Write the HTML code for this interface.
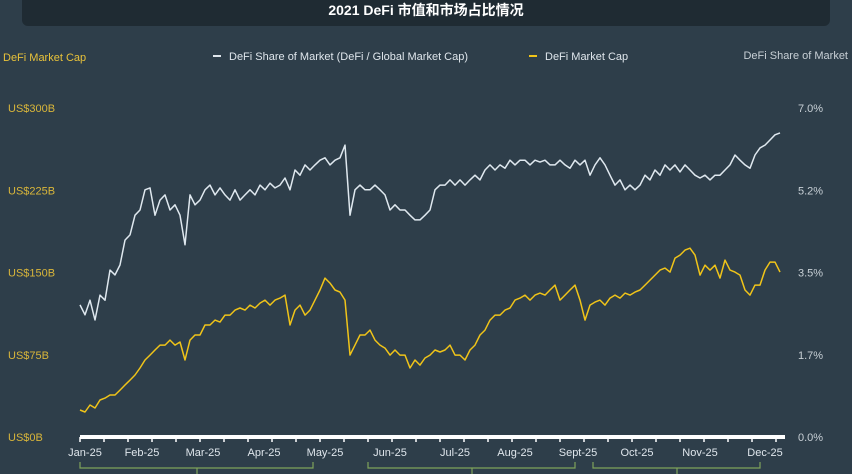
<!DOCTYPE html>
<html><head><meta charset="utf-8">
<style>
html,body{margin:0;padding:0;background:#2e3e4a;}
svg{display:block;font-family:"Liberation Sans","Noto Sans CJK SC",sans-serif;}
</style></head>
<body>
<svg id="chart" width="852" height="474" viewBox="0 0 852 474">
  <rect x="0" y="0" width="852" height="474" fill="#2e3e4a"/>
  <rect x="22" y="-10" width="808" height="36" rx="6" fill="#1f2b33"/>
  <text x="426" y="15" text-anchor="middle" fill="#ffffff" font-size="14" font-weight="bold">2021 DeFi 市值和市场占比情况</text>
  <text x="3" y="61" fill="#e8c23a" font-size="11">DeFi Market Cap</text>
  <text x="848" y="59" text-anchor="end" fill="#c8d0d6" font-size="11">DeFi Share of Market</text>
  <g>
    <g>
      <line x1="213" y1="56" x2="221" y2="56" stroke="#dfe6ec" stroke-width="2"/>
      <text x="229" y="60" fill="#dfe6ec" font-size="11">DeFi Share of Market (DeFi / Global Market Cap)</text>
    </g>
    <g>
      <line x1="529" y1="56" x2="537" y2="56" stroke="#f0c419" stroke-width="2"/>
      <text x="545" y="60" fill="#dfe6ec" font-size="11">DeFi Market Cap</text>
    </g>
  </g>
  <g id="leftTicks"></g>
  <g id="rightTicks"></g>
  <g id="xAxis"></g>
  <g id="series"></g>
  <g stroke="#7fa35a" stroke-width="1.2" fill="none">
    <path d="M80,462 V468 H313 V462 M197,468 V474"/>
    <path d="M368,462 V468 H575 V462 M472,468 V474"/>
    <path d="M593,462 V468 H760 V462 M677,468 V474"/>
  </g>
</svg>
<script>
const leftTickValues=[0,75,150,225,300];
const leftTickLabels=["US$0B","US$75B","US$150B","US$225B","US$300B"];
const rightTickValues=[0,1.75,3.5,5.25,7.0];
const rightTickLabels=["0.0%","1.7%","3.5%","5.2%","7.0%"];
const monthLabels=["Jan-25","Feb-25","Mar-25","Apr-25","May-25","Jun-25","Jul-25","Aug-25","Sept-25","Oct-25","Nov-25","Dec-25"];
const monthPos=[1,12.4,24.6,36.8,49,62,75,87,99.6,111.4,124,137];
const shareValues=[2.81,2.60,2.91,2.49,3.02,2.91,3.55,3.45,3.66,4.19,4.30,4.72,4.83,5.26,5.30,4.72,5.04,5.15,4.83,4.94,4.72,4.09,5.15,4.94,5.04,5.26,5.36,5.15,5.30,5.15,5.04,5.26,5.04,5.15,5.26,5.15,5.36,5.26,5.40,5.30,5.36,5.51,5.26,5.68,5.57,5.79,5.68,5.79,5.89,5.94,5.79,5.89,5.94,6.21,4.72,5.26,5.36,5.26,5.26,5.36,5.26,5.15,4.83,4.94,4.83,4.83,4.72,4.62,4.62,4.72,4.83,5.26,5.36,5.36,5.47,5.36,5.47,5.36,5.47,5.57,5.47,5.68,5.79,5.68,5.79,5.72,5.89,5.79,5.89,5.89,5.79,5.89,5.85,5.89,5.79,5.79,5.89,5.79,5.72,5.89,5.79,5.89,5.57,5.79,5.94,5.79,5.57,5.36,5.47,5.26,5.36,5.26,5.36,5.57,5.47,5.68,5.57,5.79,5.68,5.79,5.64,5.79,5.68,5.57,5.51,5.57,5.47,5.57,5.57,5.68,5.79,6.00,5.89,5.79,5.72,6.00,6.15,6.21,6.32,6.43,6.47];
const capValues=[24.6,22.8,29.2,26.4,33.7,35.5,38.3,38.3,42.8,47.4,51.9,56.5,62.9,70.2,74.7,79.3,83.8,83.8,88.4,83.8,86.6,70.2,88.4,93.0,93.0,102.1,102.1,106.6,104.8,111.2,111.2,115.7,117.6,115.7,120.3,117.6,122.1,124.8,120.3,124.8,126.7,129.4,102.1,115.7,120.3,111.2,115.7,124.8,134.0,144.9,140.3,134.0,132.1,124.8,74.7,83.8,93.0,93.0,97.5,88.4,83.8,81.1,74.7,79.3,74.7,74.7,62.9,70.2,65.6,72.0,74.7,79.3,77.5,79.3,83.8,74.7,74.7,70.2,79.3,83.8,93.0,97.5,106.6,111.2,111.2,115.7,117.6,124.8,126.7,129.4,124.8,129.4,131.2,129.4,134.0,138.5,124.8,129.4,134.0,138.5,124.8,106.6,120.3,123.0,124.8,120.3,126.7,129.4,126.7,131.2,129.4,132.1,134.0,138.5,143.1,147.6,152.2,154.0,150.4,163.1,165.9,170.4,172.2,165.9,147.6,156.7,152.2,156.7,144.9,161.3,152.2,150.4,147.6,134.0,129.4,138.5,138.5,152.2,159.5,159.5,150.4];

const NS="http://www.w3.org/2000/svg";
const X0=80,X1=780,Y0=437,Y1=108;
const n=capValues.length;
function xIdx(i){return X0+i*(X1-X0)/(n-1);}
function yLeft(v){return Y0-(v/300)*(Y0-Y1);}
function yRight(v){return Y0-(v/7)*(Y0-Y1);}
function mk(tag,attrs,parent){const e=document.createElementNS(NS,tag);for(const k in attrs)e.setAttribute(k,attrs[k]);parent.appendChild(e);return e;}

const lt=document.getElementById('leftTicks');
leftTickValues.forEach((v,i)=>{
  const t=mk('text',{x:8,y:yLeft(v)+4,fill:'#d9b63a','font-size':11},lt);
  
  
  t.textContent=leftTickLabels[i];
});
const rt=document.getElementById('rightTicks');
rightTickValues.forEach((v,i)=>{
  const t=mk('text',{x:798,y:yRight(v)+4,fill:'#c8d0d6','font-size':11},rt);
  
  
  t.textContent=rightTickLabels[i];
});

const xa=document.getElementById('xAxis');
const axisLine=mk('line',{x1:X0,y1:Y0,x2:785,y2:Y0,stroke:'#ffffff','stroke-width':4},xa);


for(let x=X0;x<=785;x+=24){mk('line',{x1:x,y1:Y0,x2:x,y2:Y0+5,stroke:'#ffffff','stroke-width':1.5},xa);}
monthLabels.forEach((m,i)=>{
  const t=mk('text',{x:xIdx(monthPos[i]),y:456,'text-anchor':'middle',fill:'#dfe6ec','font-size':11},xa);
  
  
  t.textContent=m;
});

const sg=document.getElementById('series');
const sp=shareValues.map((v,i)=>xIdx(i).toFixed(1)+','+yRight(v).toFixed(1)).join(' ');
const sl=mk('polyline',{points:sp,fill:'none',stroke:'#dfe8ef','stroke-width':1.5,'stroke-linejoin':'round'},sg);


const cp=capValues.map((v,i)=>xIdx(i).toFixed(1)+','+yLeft(v).toFixed(1)).join(' ');
const cl=mk('polyline',{points:cp,fill:'none',stroke:'#f0c419','stroke-width':1.5,'stroke-linejoin':'round'},sg);


</script>
</body></html>
